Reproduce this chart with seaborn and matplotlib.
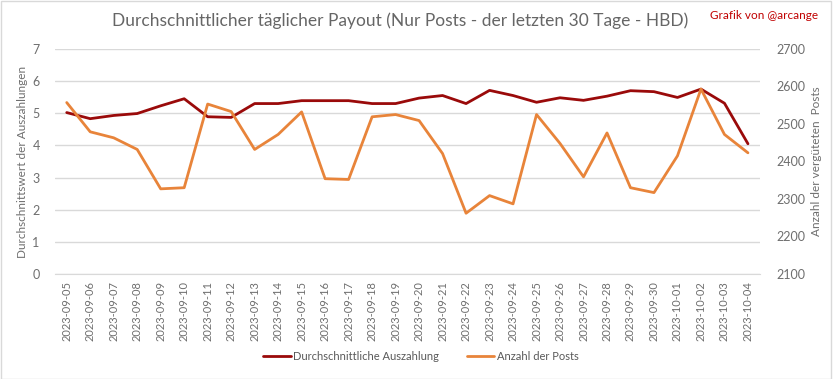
import seaborn as sns
from matplotlib import pyplot as plt
from matplotlib.patches import Rectangle
import pandas as pd

dates = ["2023-09-05", "2023-09-06", "2023-09-07", "2023-09-08", "2023-09-09",
         "2023-09-10", "2023-09-11", "2023-09-12", "2023-09-13", "2023-09-14",
         "2023-09-15", "2023-09-16", "2023-09-17", "2023-09-18", "2023-09-19",
         "2023-09-20", "2023-09-21", "2023-09-22", "2023-09-23", "2023-09-24",
         "2023-09-25", "2023-09-26", "2023-09-27", "2023-09-28", "2023-09-29",
         "2023-09-30", "2023-10-01", "2023-10-02", "2023-10-03", "2023-10-04"]

avg_payout = [5.02, 4.83, 4.93, 4.99, 5.23, 5.45, 4.89, 4.87, 5.30, 5.30,
              5.39, 5.39, 5.39, 5.30, 5.30, 5.47, 5.55, 5.30, 5.71, 5.55,
              5.34, 5.48, 5.40, 5.53, 5.70, 5.67, 5.49, 5.75, 5.31, 4.05]

post_count = [2557, 2479, 2463, 2432, 2327, 2330, 2553, 2533, 2432, 2472,
              2532, 2354, 2352, 2519, 2525, 2509, 2421, 2262, 2309, 2287,
              2525, 2448, 2359, 2476, 2330, 2317, 2415, 2593, 2472, 2423]

df = pd.DataFrame({"date": dates, "payout": avg_payout, "posts": post_count})
df["x"] = range(len(df))

sns.set_style("white")
plt.rcParams['font.family'] = ['Lato', 'DejaVu Sans']

red = "#9A0A0A"
orange = "#E8843A"
grey = "#595959"
tick_grey = "#6E6E6E"
grid = "#D9D9D9"

fig = plt.figure(figsize=(8.33, 3.79), dpi=100)
ax = fig.add_axes([0.066, 0.277, 0.846, 0.594])
ax2 = ax.twinx()

sns.lineplot(data=df, x="x", y="payout", ax=ax, color=red, linewidth=2,
             label="Durchschnittliche Auszahlung", legend=False)
sns.lineplot(data=df, x="x", y="posts", ax=ax2, color=orange, linewidth=2,
             label="Anzahl der Posts", legend=False)

ax.set_xlim(-0.5, len(dates) - 0.5)
ax.set_ylim(0, 7)
ax2.set_ylim(2100, 2700)
ax.set_yticks(range(0, 8))
ax2.set_yticks(range(2100, 2701, 100))
ax.set_xticks(df["x"])
ax.set_xticklabels(dates, rotation=90, color=tick_grey, fontsize=8)
ax.tick_params(axis="y", colors=tick_grey, labelsize=9, length=0, pad=11)
ax2.tick_params(axis="y", colors=tick_grey, labelsize=9, length=0, pad=12)
ax.tick_params(axis="x", length=0, pad=5)
ax.yaxis.grid(True, color=grid, linewidth=1)
ax.set_axisbelow(True)
for a in (ax, ax2):
    for s in a.spines.values():
        s.set_visible(False)
ax.spines["bottom"].set_visible(True)
ax.spines["bottom"].set_color(grid)

ax.set_xlabel("")
ax.set_ylabel("Durchschnittswert der Auszahlungen", color=tick_grey, fontsize=8.5, labelpad=3)
ax2.set_ylabel("Anzahl der vergüteten  Posts", color=tick_grey, fontsize=8.5, labelpad=4)

fig.text(0.48, 0.945, "Durchschnittlicher täglicher Payout (Nur Posts - der letzten 30 Tage - HBD)",
         ha="center", va="center", fontsize=12.5, color="#666666")
fig.text(0.982, 0.958, "Grafik von @arcange", ha="right", va="center",
         fontsize=8.5, color="#C00000")

h1, l1 = ax.get_legend_handles_labels()
h2, l2 = ax2.get_legend_handles_labels()
fig.legend(h1 + h2, l1 + l2, loc="center", bbox_to_anchor=(0.505, 0.06), ncol=2,
           frameon=False, fontsize=8, labelcolor=grey, handlelength=2.5,
           handletextpad=0.2, columnspacing=2.5)

fig.patches.append(Rectangle((0.001, 0.001), 0.997, 0.997, transform=fig.transFigure,
                             fill=False, edgecolor=grid, linewidth=1))

fig.savefig("out.png", dpi=100)
